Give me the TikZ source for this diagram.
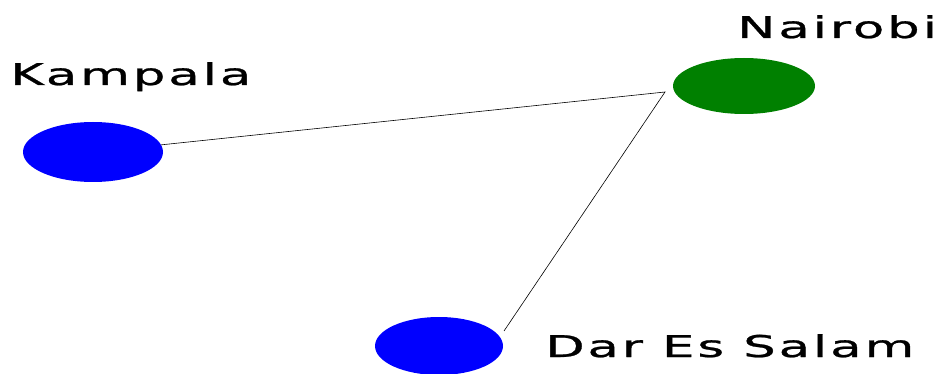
\documentclass[tikz,border=0pt]{standalone}
\usepackage{fontspec}
\usetikzlibrary{shapes.geometric}
\newfontfamily\cityfont[LetterSpace=6,FakeBold=0.8]{DejaVu Sans}
\definecolor{cityblue}{RGB}{0,0,255}
\definecolor{citygreen}{RGB}{0,128,0}
\tikzset{
  city/.style={ellipse,minimum width=140pt,minimum height=60pt,inner sep=0pt},
  cityname/.style={anchor=base west,inner sep=0pt,xscale=1.7,transform shape,font=\cityfont\fontsize{30}{34}\selectfont}
}
\begin{document}
\begin{tikzpicture}[x=1pt,y=-1pt]
 \useasboundingbox (0,0) rectangle (940,374);
 \node[city,fill=cityblue] (kampala) at (93,152) {};
 \node[city,fill=citygreen,minimum width=142pt,minimum height=56pt] (nairobi) at (744,86) {};
 \node[city,fill=cityblue,minimum width=128pt,minimum height=58pt] (dar) at (439,346) {};
 \coordinate (hub) at (665,92);
 \coordinate (dar-end) at (504,331);
 \node[cityname] (kampala-name) at (10,85) {Kampala};
 \node[cityname] (nairobi-name) at (737,38) {Nairobi};
 \node[cityname] (dar-name) at (545,357) {Dar Es Salam};
 \draw[line width=0.6pt] (kampala) -- (hub) -- (dar-end);
\end{tikzpicture}
\end{document}
